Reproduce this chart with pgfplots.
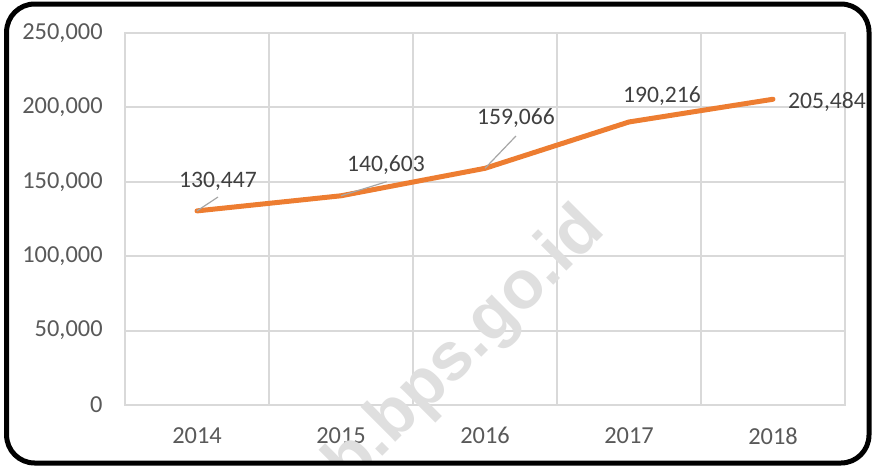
\documentclass[border=0pt]{standalone}
\usepackage{fontspec}
\setmainfont{Carlito}
\newfontfamily\wmfont{Liberation Sans}
\usepackage{pgfplots}
\pgfplotsset{compat=1.18}
\definecolor{lineorange}{HTML}{ED7D31}
\definecolor{gridgray}{HTML}{D9D9D9}
\definecolor{ticktext}{HTML}{595959}
\definecolor{labeltext}{HTML}{404040}
\definecolor{leader}{HTML}{A6A6A6}
\begin{document}
\begin{tikzpicture}[x=1pt,y=1pt]
\useasboundingbox (0,0) rectangle (437,234);
\begin{axis}[
  at={(62.5pt,31.5pt)}, anchor=south west,
  scale only axis, width=360pt, height=186pt,
  xmin=-0.5, xmax=4.5, ymin=0, ymax=250000,
  xtick={0,1,2,3,4},
  xticklabels={2014,2015,2016,2017,2018},
  minor xtick={-0.5,0.5,1.5,2.5,3.5,4.5},
  ytick={0,50000,100000,150000,200000,250000},
  yticklabels={0,{50,000},{100,000},{150,000},{200,000},{250,000}},
  scaled y ticks=false,
  xminorgrids=true, ymajorgrids=true,
  grid style={gridgray, line width=1pt},
  minor grid style={gridgray, line width=1pt},
  axis line style={gridgray, line width=1pt},
  major tick length=0pt, minor tick length=0pt,
  tick label style={font=\fontsize{12.2}{13}\selectfont, text=ticktext},
  yticklabel style={inner sep=0pt, anchor=east, xshift=-11pt},
  xticklabel style={inner sep=0pt, anchor=north, yshift=-11pt},
  clip=false,
]
\addplot[lineorange, line width=2.5pt, line cap=round, line join=round, mark=none]
  coordinates {(0,130447) (1,140603) (2,159066) (3,190216) (4,205484)};

% leader lines of the data labels
\draw[leader, line width=0.6pt] (axis cs:0,130447) -- (axis cs:0.146,139785);
\draw[leader, line width=0.6pt] (axis cs:1,140603) -- (axis cs:1.317,150067);
\draw[leader, line width=0.6pt] (axis cs:2,159066) -- (axis cs:2.215,180779);

\begin{scope}[every node/.style={text=labeltext, font=\fontsize{11.8}{12}\selectfont, inner sep=0pt}]
\node at (axis cs:0.146,150537) {130,447};
\node at (axis cs:1.3125,161290) {140,603};
\node at (axis cs:2.215,192876) {159,066};
\node at (axis cs:3.229,207660) {190,216};
\node at (axis cs:4.375,203628) {205,484};
\end{scope}
\end{axis}

% watermark
\begin{scope}
\clip[rounded corners=14pt] (3.3,2.5) rectangle (434.5,232);
\node[rotate=45, text=gray!25, font=\wmfont\bfseries\fontsize{34}{34}\selectfont]
  at (233,60) {b.bps.go.id};
\end{scope}

\draw[line width=2.5pt, rounded corners=14pt] (3.3,2.5) rectangle (434.5,232);
\end{tikzpicture}
\end{document}
